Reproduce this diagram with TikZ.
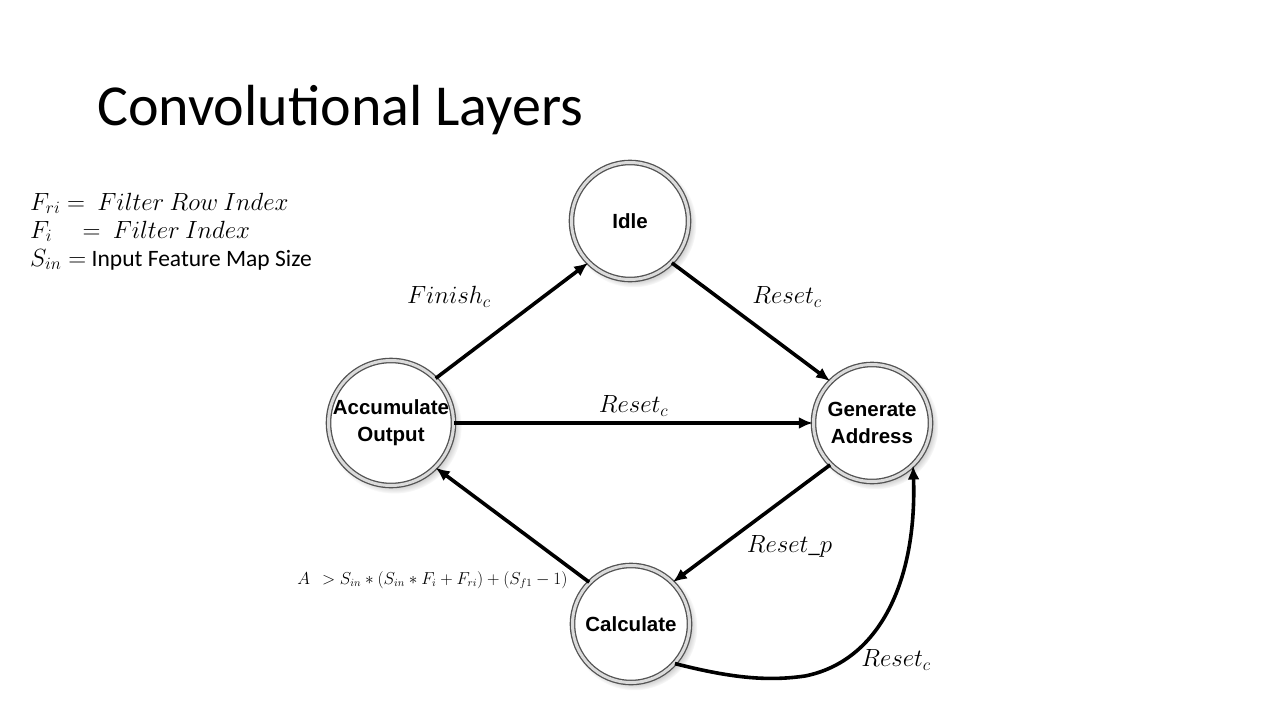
\documentclass[tikz,border=0pt]{standalone}
\usepackage{amsmath}
\usepackage{fontspec}
\setmainfont{Carlito}
\newfontfamily\arialfont{Liberation Sans}
\usetikzlibrary{arrows.meta,shadows,positioning}

\begin{document}
\begin{tikzpicture}[x=1pt, y=-1pt, >={Latex[length=14pt,width=12pt]},
    state/.style = {draw=gray!65!black, double=gray!28, double distance=3pt, line width=1.3pt,
        circle, fill=white, minimum size=117pt, inner sep=0pt, align=center,
        font=\arialfont\bfseries\fontsize{20.5}{27}\selectfont,
        circular drop shadow={shadow xshift=3pt, shadow yshift=-3pt, opacity=0.5, shadow scale=1.08}},
    trans/.style = {->, line width=3.6pt},
    lbl/.style = {font=\fontsize{23}{26}\selectfont}]
    \useasboundingbox (0,0) rectangle (1280,720);
    % title and legend
    \node[anchor=base west, inner sep=0pt, font=\fontsize{58}{62}\selectfont] (title) at (97,125) {Convolutional Layers};
    \node[anchor=base west, inner sep=0pt, font=\fontsize{23.5}{26}\selectfont] (leg1) at (30,210) {$F_{ri} =\ Filter\ Row\ Index$};
    \node[anchor=base west, inner sep=0pt, font=\fontsize{23.5}{26}\selectfont] (leg2) at (30,238) {$F_{i}\quad =\ Filter\ Index$};
    \node[anchor=base west, inner sep=0pt, font=\fontsize{23.5}{26}\selectfont] (leg3) at (30,266) {$S_{in} =$ Input Feature Map Size};
    % states
    \node[state] (idle) at (630,221) {Idle};
    \node[state] (acc) at (391,423) {Accumulate\\Output};
    \node[state] (gen) at (872,423) {Generate\\Address};
    \node[state] (calc) at (631,624) {Calculate};
    % transitions
    \draw[trans] (acc.45) -- node[lbl, midway, xshift=-63pt, yshift=24pt] {$Finish_c$} (idle.225);
    \draw[trans] (idle.-45) -- node[lbl, midway, xshift=36pt, yshift=25pt] {$Reset_c$} (gen.135);
    \draw[trans] (acc) -- node[lbl, midway, yshift=17pt] {$Reset_c$} (gen);
    \draw[trans] (gen.-135) -- node[lbl, midway, xshift=38pt, yshift=-23pt] {$Reset\_p$} (calc.45);
    \draw[trans] (calc.135) -- node[midway, xshift=-80pt, yshift=-55pt, font=\fontsize{16}{18}\selectfont] {$A\ \ > S_{in} * (S_{in} * F_i + F_{ri}) + \left(S_{f1} - 1\right)$} (acc.-45);
    \draw[trans] (calc.-42) .. controls (735,679) and (770,681) .. (805,676)
        .. controls (880,661) and (917,580) .. (gen.-46);
    \node[lbl] (rc) at (896,660) {$Reset_c$};
\end{tikzpicture}
\end{document}
